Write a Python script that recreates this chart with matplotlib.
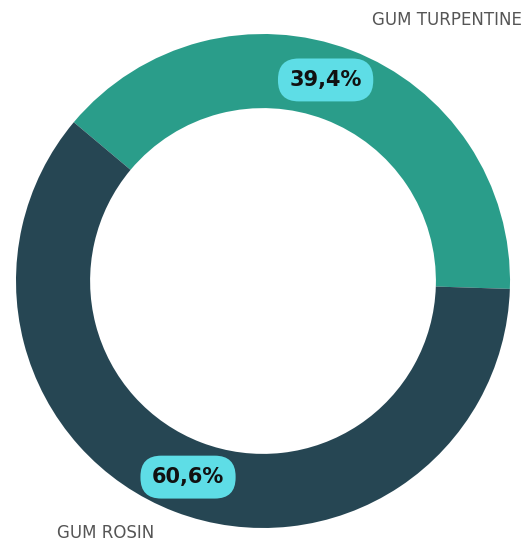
import matplotlib.pyplot as plt

# donut data
labels = ['GUM TURPENTINE', 'GUM ROSIN']
values = [39.4, 60.6]
colors = ['#2a9d8a', '#264653']

fig = plt.figure(figsize=(5.26, 5.42), dpi=100)
ax = fig.add_axes([16 / 526, 14 / 542, 494 / 526, 494 / 542])

wedges, texts, autotexts = ax.pie(
    values, colors=colors, startangle=140, counterclock=False,
    radius=1, wedgeprops=dict(width=0.3, edgecolor='none'),
    autopct=lambda p: f'{p:.1f}%'.replace('.', ','), pctdistance=0.85,
    textprops=dict(fontsize=15, fontweight='bold', color='#111111'))

for t in autotexts:
    t.set_bbox(dict(boxstyle='round,pad=0.55,rounding_size=1.0',
                    facecolor='#5edde6', edgecolor='none'))
# nudge the small-slice label a bit left like the original
x, y = autotexts[0].get_position()
autotexts[0].set_position((x - 0.05, y + 0.02))

# category labels
ax.text(1.05, 1.057, labels[0], ha='right', va='center', fontsize=12,
        color='#555555', clip_on=False)
ax.text(-0.834, -1.02, labels[1], ha='left', va='center', fontsize=12,
        color='#555555', clip_on=False)

ax.set_xlim(-1, 1)
ax.set_ylim(-1, 1)
ax.set_aspect('equal')
ax.axis('off')

plt.savefig('out.png', dpi=100)
